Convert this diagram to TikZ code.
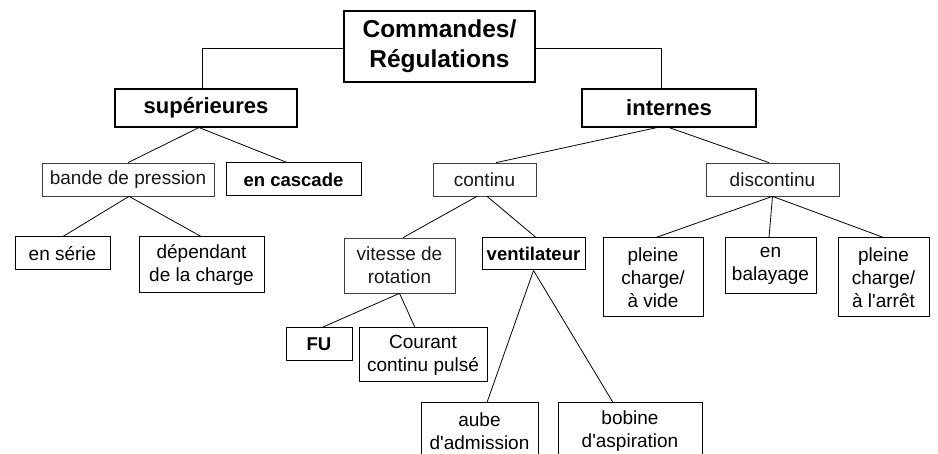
\documentclass[tikz,border=0pt]{standalone}
\usepackage{fontspec}
\setmainfont{Liberation Sans}[Ligatures=TeXOff]
\begin{document}
\begin{tikzpicture}[x=1pt,y=-1pt,
  base/.style={rectangle, inner sep=0pt, align=center, fill=white},
  rootbox/.style={base, draw=black, line width=1.1pt, font=\bfseries\fontsize{24.5}{30}\selectfont},
  mainbox/.style={base, draw=black, line width=1.1pt, font=\bfseries\fontsize{22}{26}\selectfont},
  catbox/.style={base, draw=black!75, line width=0.7pt, text=black!90, font=\fontsize{19}{23}\selectfont},
  leafbox/.style={base, draw=black, line width=1pt, font=\fontsize{19}{23}\selectfont},
  boldleaf/.style={leafbox, font=\bfseries\fontsize{18.5}{23}\selectfont},
  conn/.style={draw=black, line width=0.8pt}]
\clip (0,0) rectangle (938,454);
\useasboundingbox (0,0) rectangle (938,454);
\fill[white] (0,0) rectangle (938,454);

% nodes
\node[rootbox, minimum width=191pt, minimum height=71pt] (root) at (439.5,46.5) {Commandes/\\Régulations};
\node[mainbox, minimum width=182pt, minimum height=38pt] (sup) at (206,108) {supérieures};
\node[mainbox, minimum width=174pt, minimum height=38pt] (int) at (669,108) {internes};

\node[catbox, minimum width=172pt, minimum height=33pt] (bande) at (128,179.5) {bande de pression};
\node[boldleaf, minimum width=135pt, minimum height=33pt] (casc) at (293.5,179.5) {en cascade};
\node[catbox, minimum width=103pt, minimum height=33pt] (cont) at (484.5,179.5) {continu};
\node[catbox, minimum width=133pt, minimum height=33pt] (disc) at (772.5,179.5) {discontinu};

\node[leafbox, minimum width=95pt, minimum height=33pt] (serie) at (62.5,253.5) {en série};
\node[leafbox, minimum width=125pt, minimum height=56pt] (dep) at (201.5,265) {dépendant\\de la charge};
\node[catbox, minimum width=111pt, minimum height=55pt] (vit) at (399.5,265.5) {vitesse de\\rotation};
\node[boldleaf, minimum width=103pt, minimum height=32pt] (vent) at (533.5,254) {ventilateur};
\node[leafbox, minimum width=100pt, minimum height=79pt] (pcv) at (653,277.5) {pleine\\charge/\\à vide};
\node[leafbox, minimum width=91pt, minimum height=56pt] (bal) at (770.5,266) {en\\balayage};
\node[leafbox, minimum width=91pt, minimum height=79pt] (pca) at (883.5,277.5) {pleine\\charge/\\à l'arrêt};

\node[boldleaf, minimum width=66pt, minimum height=33pt] (fu) at (319,344.5) {FU};
\node[leafbox, minimum width=128pt, minimum height=54pt] (cour) at (423,355) {Courant\\continu pulsé};

\node[leafbox, minimum width=117pt, minimum height=56pt] (aube) at (479.5,431) {aube\\d'admission};
\node[leafbox, minimum width=144pt, minimum height=56pt] (bob) at (630,431) {bobine\\d'aspiration};

% connectors
\draw[conn] ([yshift=-1.5pt]root.west) -| ([xshift=-4pt]sup.north);
\draw[conn] ([yshift=-1.5pt]root.east) -| ([xshift=-8pt]int.north);

\draw[conn] ([xshift=-7pt]sup.south) -- (bande.north);
\draw[conn] ([xshift=-7pt]sup.south) -- ([xshift=-6.5pt]casc.north);

\draw[conn] ([xshift=-12pt]int.south) -- ([xshift=11.5pt]cont.north);
\draw[conn] (int.south) -- ([xshift=-3.5pt]disc.north);

\draw[conn] ([xshift=1pt]bande.south) -- ([xshift=0.5pt]serie.north);
\draw[conn] ([xshift=1pt]bande.south) -- ([xshift=-0.5pt]dep.north);

\draw[conn] ([xshift=-7.5pt]cont.south) -- ([xshift=3.5pt]vit.north);
\draw[conn] ([xshift=2.5pt]cont.south) -- ([xshift=2.5pt]vent.north);

\draw[conn] (vit.south) -- ([xshift=3pt]fu.north);
\draw[conn] (vit.south) -- ([xshift=-8pt]cour.north);

\draw[conn] (vent.south) -- ([xshift=7.5pt]aube.north);
\draw[conn] (vent.south) -- ([xshift=-17pt]bob.north);

\draw[conn] (disc.south) -- ([xshift=3pt]pcv.north);
\draw[conn] (disc.south) -- ([xshift=-1.5pt]bal.north);
\draw[conn] (disc.south) -- (pca.north);
\end{tikzpicture}
\end{document}
